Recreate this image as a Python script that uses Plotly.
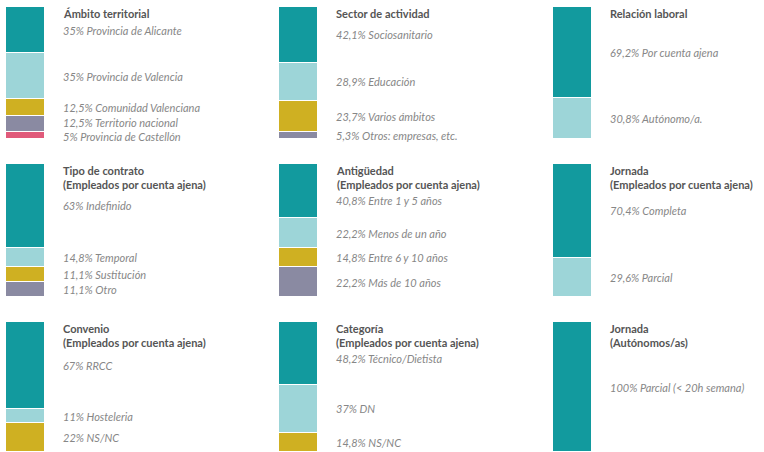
import html
import plotly.graph_objects as go

# ---------------- data ----------------
titles = [
    ["Ámbito territorial"],
    ["Sector de actividad"],
    ["Relación laboral"],
    ["Tipo de contrato", "(Empleados por cuenta ajena)"],
    ["Antigüedad", "(Empleados por cuenta ajena)"],
    ["Jornada", "(Empleados por cuenta ajena)"],
    ["Convenio", "(Empleados por cuenta ajena)"],
    ["Categoría", "(Empleados por cuenta ajena)"],
    ["Jornada", "(Autónomos/as)"],
]

ambito_cats = ["Provincia de Alicante", "Provincia de Valencia", "Comunidad Valenciana",
               "Territorio nacional", "Provincia de Castellón"]
ambito_vals = [35, 35, 12.5, 12.5, 5]

sector_cats = ["Sociosanitario", "Educación", "Varios ámbitos", "Otros: empresas, etc."]
sector_vals = [42.1, 28.9, 23.7, 5.3]

relacion_cats = ["Por cuenta ajena", "Autónomo/a."]
relacion_vals = [69.2, 30.8]

contrato_cats = ["Indefinido", "Temporal", "Sustitución", "Otro"]
contrato_vals = [63, 14.8, 11.1, 11.1]

antiguedad_cats = ["Entre 1 y 5 años", "Menos de un año", "Entre 6 y 10 años", "Más de 10 años"]
antiguedad_vals = [40.8, 22.2, 14.8, 22.2]

jornada_emp_cats = ["Completa", "Parcial"]
jornada_emp_vals = [70.4, 29.6]

convenio_cats = ["RRCC", "Hosteleria", "NS/NC"]
convenio_vals = [67, 11, 22]

categoria_cats = ["Técnico/Dietista", "DN", "NS/NC"]
categoria_vals = [48.2, 37, 14.8]

jornada_aut_cats = ["Parcial (< 20h semana)"]
jornada_aut_vals = [100]

charts = [
    (ambito_cats, ambito_vals),
    (sector_cats, sector_vals),
    (relacion_cats, relacion_vals),
    (contrato_cats, contrato_vals),
    (antiguedad_cats, antiguedad_vals),
    (jornada_emp_cats, jornada_emp_vals),
    (convenio_cats, convenio_vals),
    (categoria_cats, categoria_vals),
    (jornada_aut_cats, jornada_aut_vals),
]

# ---------------- style / layout ----------------
colors = ["#129a9e", "#9dd5d8", "#cfb022", "#8a8aa2", "#e05a7a"]
FONT = "Lato, 'Open Sans', sans-serif"
TITLE_COLOR = "#555555"
LABEL_COLOR = "#878787"

W, H = 764, 452
col_left = [6, 279, 553]
bar_w = 39
row_top = [7, 164, 322]
row_bot = [139, 297, 452]
MIN_GAP = 14  # px between label centres


def fmt(v):
    s = ("%g" % v).replace(".", ",")
    return s + "%"


fig = go.Figure()
annotations = []
layout_axes = {}

for i, (cats, vals) in enumerate(charts):
    r, c = divmod(i, 3)
    k = i + 1
    xa = "x" if k == 1 else f"x{k}"
    ya = "y" if k == 1 else f"y{k}"
    xname = "xaxis" if k == 1 else f"xaxis{k}"
    yname = "yaxis" if k == 1 else f"yaxis{k}"
    left = col_left[c]
    top, bot = row_top[r], row_bot[r]
    bar_h = bot - top
    layout_axes[xname] = dict(domain=[left / W, (left + bar_w) / W], range=[-0.5, 0.5],
                              visible=False, fixedrange=True, anchor=ya)
    layout_axes[yname] = dict(domain=[1 - bot / H, 1 - top / H], range=[100, 0],
                              visible=False, fixedrange=True, anchor=xa)

    # title
    ntitle = len(titles[i])
    annotations.append(dict(
        xref=xa, yref=ya, x=0.5, y=0, xanchor="left", yanchor="top",
        xshift=16, yshift=2, align="left", showarrow=False,
        text="<br>".join(html.escape(t) for t in titles[i]),
        font=dict(family=FONT, size=11, color=TITLE_COLOR, weight=700),
    ))
    min_px = 22 if ntitle == 1 else 36

    # label centre positions (px from bar top)
    centers = []
    cum = 0.0
    for v in vals:
        centers.append((cum + v / 2) / 100 * bar_h)
        cum += v
    pos = list(centers)
    if pos[0] < min_px:
        pos[0] = min_px
    for _ in range(20):
        for j in range(1, len(pos)):
            gap = pos[j] - pos[j - 1]
            if gap < MIN_GAP:
                d = (MIN_GAP - gap) / 2
                if j - 1 == 0 and pos[0] <= min_px:
                    pos[j] += 2 * d
                else:
                    pos[j - 1] -= d
                    pos[j] += d

    for j, (cat, v) in enumerate(zip(cats, vals)):
        fig.add_trace(go.Bar(
            x=[0], y=[v], xaxis=xa, yaxis=ya, width=1,
            marker=dict(color=colors[j], line=dict(color="white", width=1.2)),
            hoverinfo="skip", showlegend=False,
        ))
        annotations.append(dict(
            xref=xa, yref=ya, x=0.5, y=0, yshift=-pos[j],
            xanchor="left", yanchor="middle", xshift=16, showarrow=False,
            text=html.escape(f"{fmt(v)} {cat}"),
            font=dict(family=FONT, size=11, color=LABEL_COLOR, style="italic"),
        ))

fig.update_layout(
    width=W, height=H,
    margin=dict(l=0, r=0, t=0, b=0),
    barmode="stack",
    bargap=0,
    paper_bgcolor="white",
    plot_bgcolor="rgba(0,0,0,0)",
    annotations=annotations,
    showlegend=False,
    **layout_axes,
)

fig.write_html(
    "out.html",
    config={"displayModeBar": False},
    post_script="document.body.style.margin='0';document.body.style.overflow='hidden';",
)
